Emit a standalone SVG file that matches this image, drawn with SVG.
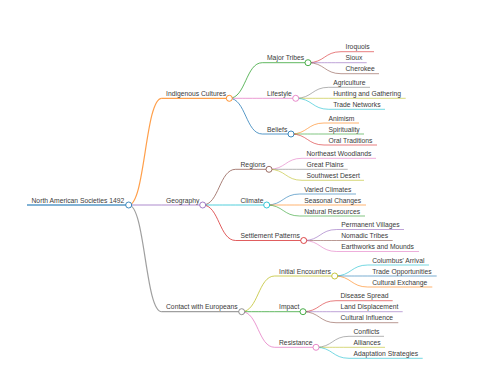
<svg xmlns="http://www.w3.org/2000/svg" width="480" height="384" viewBox="0 0 480 384">
<style>
text{font-family:"Liberation Sans",Arial,sans-serif;font-size:6.75px;fill:#3a3a3a}
path,line{fill:none;stroke-opacity:0.75}
circle{fill:#fff;stroke-width:1;stroke-opacity:0.85}
.blue{stroke:#1f77b4}.orange{stroke:#ff7f0e}.green{stroke:#2ca02c}.red{stroke:#d62728}.purple{stroke:#9467bd}.brown{stroke:#8c564b}.pink{stroke:#e377c2}.gray{stroke:#7f7f7f}.olive{stroke:#bcbd22}.cyan{stroke:#17becf}
.d0{stroke-width:1.5}.d1{stroke-width:1.2}.d2{stroke-width:1}.d3{stroke-width:0.8}
</style>
<rect width="480" height="384" fill="#fff"/>
<g id="connectors">
<path class="orange d1" d="M128.7,205 C145.2,205 145.2,98.3 161.7,98.3"/>
<path class="purple d1" d="M128.7,205 C145.2,205 145.2,205 161.7,205"/>
<path class="gray d1" d="M128.7,205 C145.2,205 145.2,311.7 161.7,311.7"/>
<path class="green d2" d="M229.3,98.3 C245.8,98.3 245.8,62.7 262.3,62.7"/>
<path class="pink d2" d="M229.3,98.3 C245.8,98.3 245.8,98.3 262.3,98.3"/>
<path class="blue d2" d="M229.3,98.3 C245.8,98.3 245.8,134 262.3,134"/>
<path class="brown d2" d="M202.7,205 C219.2,205 219.2,169.3 235.7,169.3"/>
<path class="cyan d2" d="M202.7,205 C219.2,205 219.2,205 235.7,205"/>
<path class="red d2" d="M202.7,205 C219.2,205 219.2,240.5 235.7,240.5"/>
<path class="olive d2" d="M241.7,311.7 C258.2,311.7 258.2,276 274.7,276"/>
<path class="green d2" d="M241.7,311.7 C258.2,311.7 258.2,311.7 274.7,311.7"/>
<path class="pink d2" d="M241.7,311.7 C258.2,311.7 258.2,347.3 274.7,347.3"/>
<path class="red d3" d="M308,62.7 C324.5,62.7 324.5,51.7 341,51.7"/>
<path class="purple d3" d="M308,62.7 C324.5,62.7 324.5,62.7 341,62.7"/>
<path class="brown d3" d="M308,62.7 C324.5,62.7 324.5,73.7 341,73.7"/>
<path class="gray d3" d="M295.7,98.3 C312.2,98.3 312.2,87.3 328.7,87.3"/>
<path class="olive d3" d="M295.7,98.3 C312.2,98.3 312.2,98.3 328.7,98.3"/>
<path class="cyan d3" d="M295.7,98.3 C312.2,98.3 312.2,109.3 328.7,109.3"/>
<path class="orange d3" d="M291,134 C307.5,134 307.5,123 324,123"/>
<path class="green d3" d="M291,134 C307.5,134 307.5,134 324,134"/>
<path class="red d3" d="M291,134 C307.5,134 307.5,145 324,145"/>
<path class="pink d3" d="M269,169.3 C285.5,169.3 285.5,158.3 302,158.3"/>
<path class="gray d3" d="M269,169.3 C285.5,169.3 285.5,169.3 302,169.3"/>
<path class="olive d3" d="M269,169.3 C285.5,169.3 285.5,180.3 302,180.3"/>
<path class="blue d3" d="M266.7,205 C283.2,205 283.2,194 299.7,194"/>
<path class="orange d3" d="M266.7,205 C283.2,205 283.2,205 299.7,205"/>
<path class="green d3" d="M266.7,205 C283.2,205 283.2,216 299.7,216"/>
<path class="purple d3" d="M303.7,240.5 C320.2,240.5 320.2,229.5 336.7,229.5"/>
<path class="brown d3" d="M303.7,240.5 C320.2,240.5 320.2,240.5 336.7,240.5"/>
<path class="pink d3" d="M303.7,240.5 C320.2,240.5 320.2,251.5 336.7,251.5"/>
<path class="cyan d3" d="M334.7,276 C351.2,276 351.2,265 367.7,265"/>
<path class="blue d3" d="M334.7,276 C351.2,276 351.2,276 367.7,276"/>
<path class="orange d3" d="M334.7,276 C351.2,276 351.2,287 367.7,287"/>
<path class="red d3" d="M303,311.7 C319.5,311.7 319.5,300.7 336,300.7"/>
<path class="purple d3" d="M303,311.7 C319.5,311.7 319.5,311.7 336,311.7"/>
<path class="brown d3" d="M303,311.7 C319.5,311.7 319.5,322.7 336,322.7"/>
<path class="gray d3" d="M316,347.3 C332.5,347.3 332.5,336.3 349,336.3"/>
<path class="olive d3" d="M316,347.3 C332.5,347.3 332.5,347.3 349,347.3"/>
<path class="cyan d3" d="M316,347.3 C332.5,347.3 332.5,358.3 349,358.3"/>
</g>
<g id="root"><line class="blue d0" x1="27" y1="205" x2="128.7" y2="205"/><text x="31.5" y="202.5">North American Societies 1492</text><circle class="blue" cx="128.7" cy="205" r="3"/></g>
<g id="indigenous"><line class="orange d1" x1="161.7" y1="98.3" x2="229.3" y2="98.3"/><text x="166" y="95.8">Indigenous Cultures</text><circle class="orange" cx="229.3" cy="98.3" r="3"/></g>
<g id="geography"><line class="purple d1" x1="161.7" y1="205" x2="202.7" y2="205"/><text x="166" y="202.5">Geography</text><circle class="purple" cx="202.7" cy="205" r="3"/></g>
<g id="contact"><line class="gray d1" x1="161.7" y1="311.7" x2="241.7" y2="311.7"/><text x="166" y="309.2">Contact with Europeans</text><circle class="gray" cx="241.7" cy="311.7" r="3"/></g>
<g id="major-tribes"><line class="green d2" x1="262.3" y1="62.7" x2="308" y2="62.7"/><text x="267" y="60.2">Major Tribes</text><circle class="green" cx="308" cy="62.7" r="3"/></g>
<g id="lifestyle"><line class="pink d2" x1="262.3" y1="98.3" x2="295.7" y2="98.3"/><text x="267" y="95.8">Lifestyle</text><circle class="pink" cx="295.7" cy="98.3" r="3"/></g>
<g id="beliefs"><line class="blue d2" x1="262.3" y1="134" x2="291" y2="134"/><text x="267" y="131.5">Beliefs</text><circle class="blue" cx="291" cy="134" r="3"/></g>
<g id="regions"><line class="brown d2" x1="235.7" y1="169.3" x2="269" y2="169.3"/><text x="240.5" y="166.8">Regions</text><circle class="brown" cx="269" cy="169.3" r="3"/></g>
<g id="climate"><line class="cyan d2" x1="235.7" y1="205" x2="266.7" y2="205"/><text x="240.5" y="202.5">Climate</text><circle class="cyan" cx="266.7" cy="205" r="3"/></g>
<g id="settlement"><line class="red d2" x1="235.7" y1="240.5" x2="303.7" y2="240.5"/><text x="240.5" y="238">Settlement Patterns</text><circle class="red" cx="303.7" cy="240.5" r="3"/></g>
<g id="initial"><line class="olive d2" x1="274.7" y1="276" x2="334.7" y2="276"/><text x="279" y="273.5">Initial Encounters</text><circle class="olive" cx="334.7" cy="276" r="3"/></g>
<g id="impact"><line class="green d2" x1="274.7" y1="311.7" x2="303" y2="311.7"/><text x="279" y="309.2">Impact</text><circle class="green" cx="303" cy="311.7" r="3"/></g>
<g id="resistance"><line class="pink d2" x1="274.7" y1="347.3" x2="316" y2="347.3"/><text x="279" y="344.8">Resistance</text><circle class="pink" cx="316" cy="347.3" r="3"/></g>
<g id="iroquois"><line class="red d3" x1="341" y1="51.7" x2="374" y2="51.7"/><text x="345.5" y="49.2">Iroquois</text></g>
<g id="sioux"><line class="purple d3" x1="341" y1="62.7" x2="366.7" y2="62.7"/><text x="345.5" y="60.2">Sioux</text></g>
<g id="cherokee"><line class="brown d3" x1="341" y1="73.7" x2="379" y2="73.7"/><text x="345.5" y="71.2">Cherokee</text></g>
<g id="agriculture"><line class="gray d3" x1="328.7" y1="87.3" x2="370" y2="87.3"/><text x="333.2" y="84.8">Agriculture</text></g>
<g id="hunting"><line class="olive d3" x1="328.7" y1="98.3" x2="405.7" y2="98.3"/><text x="333.2" y="95.8">Hunting and Gathering</text></g>
<g id="trade-networks"><line class="cyan d3" x1="328.7" y1="109.3" x2="385" y2="109.3"/><text x="333.2" y="106.8">Trade Networks</text></g>
<g id="animism"><line class="orange d3" x1="324" y1="123" x2="359" y2="123"/><text x="328.5" y="120.5">Animism</text></g>
<g id="spirituality"><line class="green d3" x1="324" y1="134" x2="364" y2="134"/><text x="328.5" y="131.5">Spirituality</text></g>
<g id="oral"><line class="red d3" x1="324" y1="145" x2="377" y2="145"/><text x="328.5" y="142.5">Oral Traditions</text></g>
<g id="northeast"><line class="pink d3" x1="302" y1="158.3" x2="376" y2="158.3"/><text x="306.5" y="155.8">Northeast Woodlands</text></g>
<g id="plains"><line class="gray d3" x1="302" y1="169.3" x2="347.7" y2="169.3"/><text x="306.5" y="166.8">Great Plains</text></g>
<g id="southwest"><line class="olive d3" x1="302" y1="180.3" x2="364" y2="180.3"/><text x="306.5" y="177.8">Southwest Desert</text></g>
<g id="varied"><line class="blue d3" x1="299.7" y1="194" x2="356" y2="194"/><text x="304.2" y="191.5">Varied Climates</text></g>
<g id="seasonal"><line class="orange d3" x1="299.7" y1="205" x2="366" y2="205"/><text x="304.2" y="202.5">Seasonal Changes</text></g>
<g id="natural"><line class="green d3" x1="299.7" y1="216" x2="365" y2="216"/><text x="304.2" y="213.5">Natural Resources</text></g>
<g id="villages"><line class="purple d3" x1="336.7" y1="229.5" x2="404" y2="229.5"/><text x="341.2" y="227">Permanent Villages</text></g>
<g id="nomadic"><line class="brown d3" x1="336.7" y1="240.5" x2="392.7" y2="240.5"/><text x="341.2" y="238">Nomadic Tribes</text></g>
<g id="earthworks"><line class="pink d3" x1="336.7" y1="251.5" x2="419" y2="251.5"/><text x="341.2" y="249">Earthworks and Mounds</text></g>
<g id="columbus"><line class="cyan d3" x1="367.7" y1="265" x2="429" y2="265"/><text x="372.2" y="262.5">Columbus' Arrival</text></g>
<g id="trade-opp"><line class="blue d3" x1="367.7" y1="276" x2="436.7" y2="276"/><text x="372.2" y="273.5">Trade Opportunities</text></g>
<g id="exchange"><line class="orange d3" x1="367.7" y1="287" x2="432.3" y2="287"/><text x="372.2" y="284.5">Cultural Exchange</text></g>
<g id="disease"><line class="red d3" x1="336" y1="300.7" x2="392.7" y2="300.7"/><text x="340.5" y="298.2">Disease Spread</text></g>
<g id="land"><line class="purple d3" x1="336" y1="311.7" x2="402.7" y2="311.7"/><text x="340.5" y="309.2">Land Displacement</text></g>
<g id="influence"><line class="brown d3" x1="336" y1="322.7" x2="398.3" y2="322.7"/><text x="340.5" y="320.2">Cultural Influence</text></g>
<g id="conflicts"><line class="gray d3" x1="349" y1="336.3" x2="384" y2="336.3"/><text x="353.5" y="333.8">Conflicts</text></g>
<g id="alliances"><line class="olive d3" x1="349" y1="347.3" x2="385" y2="347.3"/><text x="353.5" y="344.8">Alliances</text></g>
<g id="adaptation"><line class="cyan d3" x1="349" y1="358.3" x2="422.7" y2="358.3"/><text x="353.5" y="355.8">Adaptation Strategies</text></g>
</svg>
